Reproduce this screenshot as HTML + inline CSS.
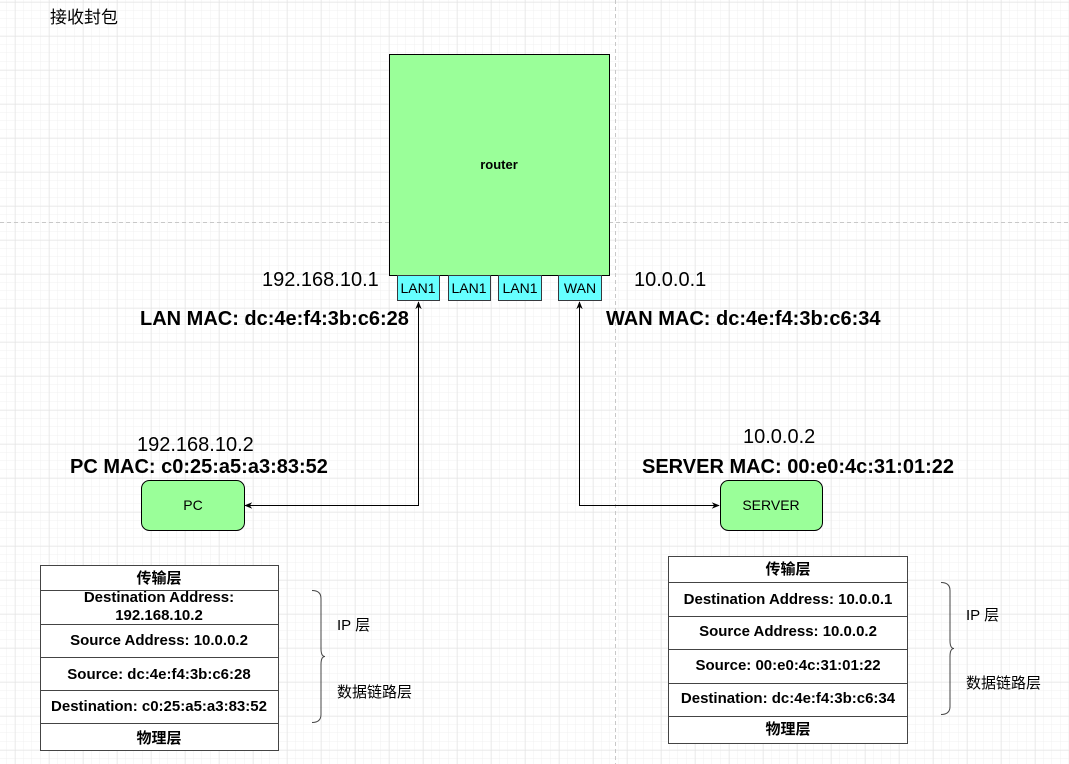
<!DOCTYPE html>
<html><head><meta charset="utf-8"><style>
body{margin:0;background:#fff;}
svg{display:block;font-family:"Liberation Sans","Noto Sans CJK SC",sans-serif;}
</style></head><body>
<svg width="1069" height="764" viewBox="0 0 1069 764" xmlns="http://www.w3.org/2000/svg">
<defs>
<pattern id="minor" x="15" y="2" width="8.5" height="8.5" patternUnits="userSpaceOnUse">
<path d="M8.5 0V8.5M0 8.5H8.5" fill="none" stroke="#f1f1f1" stroke-width="1"/>
</pattern>
<pattern id="major" x="15" y="2" width="34" height="34" patternUnits="userSpaceOnUse">
<path d="M0 0V34M0 0H34" fill="none" stroke="#e2e2e2" stroke-width="1"/>
</pattern>
<marker id="ar" viewBox="0 0 10 10" refX="9" refY="5" markerWidth="8" markerHeight="8" orient="auto-start-reverse">
<path d="M0 1L10 5L0 9L3 5Z" fill="#000"/>
</marker>
</defs>
<rect width="1069" height="764" fill="#fff"/>
<rect width="1069" height="764" fill="url(#minor)"/>
<rect width="1069" height="764" fill="url(#major)"/>
<line x1="0" y1="222.5" x2="1069" y2="222.5" stroke="#c8c8c8" stroke-dasharray="4 3"/>
<line x1="615.5" y1="0" x2="615.5" y2="764" stroke="#c8c8c8" stroke-dasharray="4 3"/>

<text x="50" y="23" font-size="17">接收封包</text>

<rect x="389.5" y="54.5" width="220" height="221" fill="#9aff99" stroke="#000"/>
<text x="499" y="169" font-size="13" font-weight="bold" text-anchor="middle">router</text>

<g stroke="#36393d" fill="#66ffff">
<rect x="397.5" y="275.5" width="42" height="25"/>
<rect x="448.5" y="275.5" width="42" height="25"/>
<rect x="498.5" y="275.5" width="43" height="25"/>
<rect x="558.5" y="275.5" width="43" height="25"/>
</g>
<g font-size="14" text-anchor="middle">
<text x="418" y="293">LAN1</text>
<text x="469" y="293">LAN1</text>
<text x="520" y="293">LAN1</text>
<text x="580" y="293">WAN</text>
</g>

<text x="262" y="286" font-size="20">192.168.10.1</text>
<text x="140" y="325" font-size="20" font-weight="bold">LAN MAC: dc:4e:f4:3b:c6:28</text>
<text x="634" y="286" font-size="20">10.0.0.1</text>
<text x="606" y="325" font-size="20" font-weight="bold">WAN MAC: dc:4e:f4:3b:c6:34</text>

<path d="M245 505.5H418.5V302" fill="none" stroke="#000" marker-start="url(#ar)" marker-end="url(#ar)"/>
<path d="M719 505.5H579.5V302" fill="none" stroke="#000" marker-start="url(#ar)" marker-end="url(#ar)"/>

<rect x="141.5" y="480.5" width="103" height="50" rx="8" fill="#9aff99" stroke="#000"/>
<text x="193" y="510" font-size="14" text-anchor="middle">PC</text>
<rect x="720.5" y="480.5" width="102" height="50" rx="8" fill="#9aff99" stroke="#000"/>
<text x="771" y="510" font-size="14" text-anchor="middle">SERVER</text>

<text x="137" y="451" font-size="20">192.168.10.2</text>
<text x="70" y="473" font-size="20" font-weight="bold">PC MAC: c0:25:a5:a3:83:52</text>
<text x="743" y="443" font-size="20">10.0.0.2</text>
<text x="642" y="473" font-size="20" font-weight="bold">SERVER MAC: 00:e0:4c:31:01:22</text>

<rect x="40.5" y="565.5" width="238" height="185" fill="#fff" stroke="#444"/>
<g stroke="#444">
<line x1="40" y1="590.5" x2="278" y2="590.5"/>
<line x1="40" y1="624.5" x2="278" y2="624.5"/>
<line x1="40" y1="657.5" x2="278" y2="657.5"/>
<line x1="40" y1="690.5" x2="278" y2="690.5"/>
<line x1="40" y1="723.5" x2="278" y2="723.5"/>
</g>
<g font-size="15" font-weight="bold" text-anchor="middle">
<text x="159" y="583">传输层</text>
<text x="159" y="602">Destination Address:</text>
<text x="159" y="620">192.168.10.2</text>
<text x="159" y="645">Source Address: 10.0.0.2</text>
<text x="159" y="679">Source: dc:4e:f4:3b:c6:28</text>
<text x="159" y="711">Destination: c0:25:a5:a3:83:52</text>
<text x="159" y="743">物理层</text>
</g>
<path d="M312 590.5q9 0 9 8v50q0 8 4 8q-4 0-4 8v50q0 8-9 8" fill="none" stroke="#444"/>
<g font-size="15"><text x="337" y="630">IP 层</text><text x="337" y="697">数据链路层</text></g>

<rect x="668.5" y="556.5" width="239" height="187" fill="#fff" stroke="#444"/>
<g stroke="#444">
<line x1="668" y1="582.5" x2="907" y2="582.5"/>
<line x1="668" y1="616.5" x2="907" y2="616.5"/>
<line x1="668" y1="649.5" x2="907" y2="649.5"/>
<line x1="668" y1="683.5" x2="907" y2="683.5"/>
<line x1="668" y1="716.5" x2="907" y2="716.5"/>
</g>
<g font-size="15" font-weight="bold" text-anchor="middle">
<text x="788" y="574">传输层</text>
<text x="788" y="604">Destination Address: 10.0.0.1</text>
<text x="788" y="636">Source Address: 10.0.0.2</text>
<text x="788" y="670">Source: 00:e0:4c:31:01:22</text>
<text x="788" y="703">Destination: dc:4e:f4:3b:c6:34</text>
<text x="788" y="734">物理层</text>
</g>
<path d="M941 582.5q9 0 9 8v50q0 8 4 8q-4 0-4 8v50q0 8-9 8" fill="none" stroke="#444"/>
<g font-size="15"><text x="966" y="620">IP 层</text><text x="966" y="688">数据链路层</text></g>
</svg>
</body></html>
